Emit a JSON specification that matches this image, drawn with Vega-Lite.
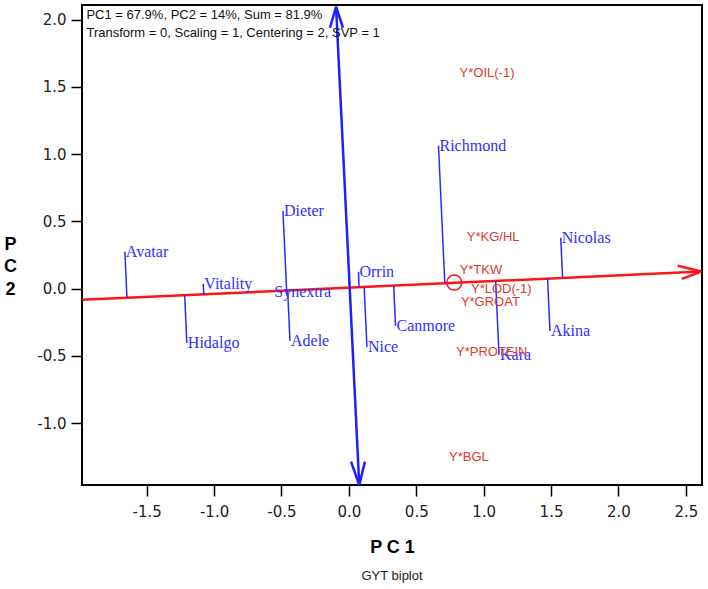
{
  "$schema": "https://vega.github.io/schema/vega-lite/v6.json",
  "autosize": {"type": "none"},
  "width": 620,
  "height": 480,
  "padding": {"left": 82, "top": 5, "right": 6, "bottom": 104},
  "background": "white",
  "title": {"text": "GYT biplot", "orient": "bottom", "frame": "group", "anchor": "middle", "offset": 14, "font": "Liberation Sans", "fontSize": 13, "fontWeight": "normal", "color": "#222"},
  "config": {
    "view": {"stroke": "black", "strokeWidth": 2},
    "axis": {"grid": false, "domain": false, "tickColor": "black", "tickSize": 11, "tickWidth": 1.5, "labelFont": "DejaVu Sans", "labelFontSize": 15, "labelColor": "#222"}
  },
  "datasets": {
    "axes": [
      {"seg": "atc", "x": -1.978, "y": -0.083, "x2": 2.615, "y2": 0.127},
      {"seg": "atc", "x": 2.44, "y": 0.17, "x2": 2.615, "y2": 0.127},
      {"seg": "atc", "x": 2.47, "y": 0.073, "x2": 2.615, "y2": 0.127},
      {"seg": "ato", "x": -0.095, "y": 2.095, "x2": 0.077, "y2": -1.459},
      {"seg": "ato", "x": -0.14, "y": 1.939, "x2": -0.095, "y2": 2.095},
      {"seg": "ato", "x": -0.044, "y": 1.939, "x2": -0.095, "y2": 2.095},
      {"seg": "ato", "x": 0.016, "y": -1.285, "x2": 0.077, "y2": -1.459},
      {"seg": "ato", "x": 0.119, "y": -1.285, "x2": 0.077, "y2": -1.459}
    ],
    "genotypes": [
      {"name": "Avatar", "x": -1.662, "y": 0.274, "fx": -1.6463, "fy": -0.0678},
      {"name": "Vitality", "x": -1.08, "y": 0.036, "fx": -1.0764, "fy": -0.0417},
      {"name": "Hidalgo", "x": -1.202, "y": -0.403, "fx": -1.2182, "fy": -0.0482},
      {"name": "Synextra", "x": -0.561, "y": -0.022, "fx": -0.5612, "fy": -0.0181},
      {"name": "Dieter", "x": -0.489, "y": 0.577, "fx": -0.4619, "fy": -0.0136},
      {"name": "Adele", "x": -0.437, "y": -0.388, "fx": -0.4541, "fy": -0.0132},
      {"name": "Orrin", "x": 0.071, "y": 0.125, "fx": 0.0762, "fy": 0.0111},
      {"name": "Nice", "x": 0.134, "y": -0.433, "fx": 0.1136, "fy": 0.0128},
      {"name": "Canmore", "x": 0.346, "y": -0.277, "fx": 0.3323, "fy": 0.0228},
      {"name": "Richmond", "x": 0.665, "y": 1.062, "fx": 0.7118, "fy": 0.0402},
      {"name": "Kara", "x": 1.114, "y": -0.492, "fx": 1.0888, "fy": 0.0575},
      {"name": "Akina", "x": 1.492, "y": -0.314, "fx": 1.4742, "fy": 0.0751},
      {"name": "Nicolas", "x": 1.572, "y": 0.378, "fx": 1.5857, "fy": 0.0802}
    ],
    "traits": [
      {"name": "Y*OIL(-1)", "x": 1.025, "y": 1.604},
      {"name": "Y*KG/HL", "x": 1.071, "y": 0.387},
      {"name": "Y*TKW", "x": 0.98, "y": 0.14},
      {"name": "Y*LOD(-1)", "x": 1.131, "y": -0.004},
      {"name": "Y*GROAT", "x": 1.05, "y": -0.096},
      {"name": "Y*PROTEIN", "x": 1.06, "y": -0.472},
      {"name": "Y*BGL", "x": 0.891, "y": -1.248}
    ],
    "header": [
      {"text": "PC1 = 67.9%, PC2 = 14%, Sum = 81.9%", "x": -1.947, "y": 2.036},
      {"text": "Transform = 0, Scaling = 1, Centering = 2, SVP = 1", "x": -1.947, "y": 1.9}
    ],
    "marker": [{"x": 0.782, "y": 0.045}]
  },
  "encoding": {
    "x": {"field": "x", "type": "quantitative", "scale": {"domain": [-1.98, 2.62], "nice": false, "zero": false},
      "axis": {"values": [-1.5, -1, -0.5, 0, 0.5, 1, 1.5, 2, 2.5], "labelExpr": "datum.value < 0 ? '-' + format(-datum.value, '.1f') : format(datum.value, '.1f')", "labelPadding": 8, "title": "P C 1", "titleFont": "Liberation Sans", "titleFontSize": 18, "titleFontWeight": "bold", "titleColor": "black", "titleX": 310, "titleY": 62, "titleBaseline": "middle"}},
    "y": {"field": "y", "type": "quantitative", "scale": {"domain": [-1.459, 2.108], "nice": false, "zero": false},
      "axis": {"values": [-1, -0.5, 0, 0.5, 1, 1.5, 2], "labelExpr": "datum.value < 0 ? '-' + format(-datum.value, '.1f') : format(datum.value, '.1f')", "labelPadding": 5, "title": ["P", "C", "2"], "titleAngle": 0, "titleFont": "Liberation Sans", "titleFontSize": 18, "titleFontWeight": "bold", "titleColor": "black", "titleX": -72, "titleY": 239, "titleAlign": "center", "titleBaseline": "middle", "titleLineHeight": 22.5}}
  },
  "layer": [
    {
      "data": {"name": "axes"},
      "mark": {"type": "rule", "strokeWidth": 2.5, "clip": true},
      "encoding": {
        "x2": {"field": "x2"},
        "y2": {"field": "y2"},
        "color": {"field": "seg", "type": "nominal", "scale": {"domain": ["atc", "ato"], "range": ["#ff1414", "#1e1eff"]}, "legend": null}
      }
    },
    {
      "data": {"name": "genotypes"},
      "mark": {"type": "rule", "strokeWidth": 1.5, "color": "#2b2bff"},
      "encoding": {
        "x2": {"field": "fx"},
        "y2": {"field": "fy"}
      }
    },
    {
      "data": {"name": "marker"},
      "mark": {"type": "point", "shape": "circle", "size": 225, "filled": false, "stroke": "#ff1414", "strokeWidth": 1.5, "opacity": 1}
    },
    {
      "data": {"name": "genotypes"},
      "mark": {"type": "text", "align": "left", "baseline": "middle", "dx": 1, "font": "Liberation Serif", "fontSize": 16, "color": "#3030ff"},
      "encoding": {"text": {"field": "name"}}
    },
    {
      "data": {"name": "traits"},
      "mark": {"type": "text", "align": "center", "baseline": "middle", "font": "Liberation Sans", "fontSize": 13, "color": "#dc3a2a"},
      "encoding": {"text": {"field": "name"}}
    },
    {
      "data": {"name": "header"},
      "mark": {"type": "text", "align": "left", "baseline": "middle", "font": "Liberation Sans", "fontSize": 13, "color": "#111"},
      "encoding": {"text": {"field": "text"}}
    }
  ]
}
